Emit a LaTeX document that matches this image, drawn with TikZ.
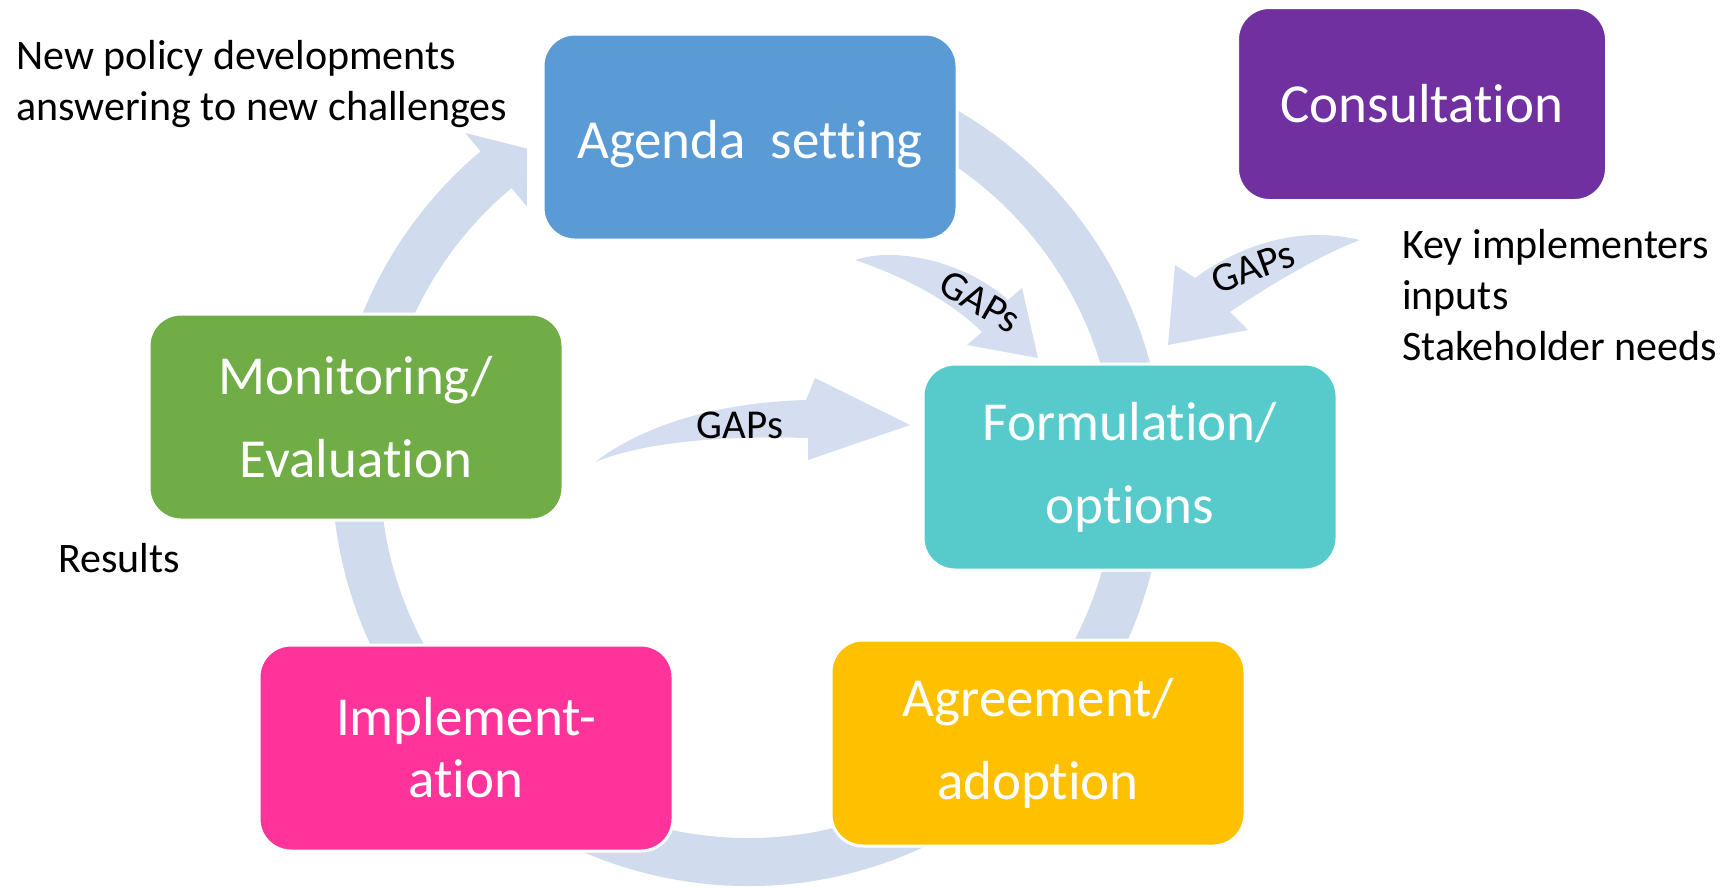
\documentclass[tikz,border=0pt]{standalone}
\usepackage{fontspec}
\setmainfont{Carlito}[Ligatures=NoCommon]
\usepackage{tikz}
\usetikzlibrary{calc}
\definecolor{ringblue}{RGB}{208,220,238}
\definecolor{gapblue}{RGB}{213,221,241}
\definecolor{agendablue}{RGB}{91,155,213}
\definecolor{consultpurple}{RGB}{112,48,160}
\definecolor{monitorgreen}{RGB}{112,173,71}
\definecolor{formteal}{RGB}{87,203,204}
\definecolor{implpink}{RGB}{255,51,153}
\definecolor{agreegold}{RGB}{255,192,0}
\tikzstyle{stage}=[draw=white, line width=3pt, rounded corners=32pt, minimum width=414pt, minimum height=206pt, inner sep=0pt, text=white, align=center, font=\fontsize{55}{83}\selectfont]
\tikzstyle{note}=[inner sep=0pt, align=left, anchor=base west, font=\fontsize{42}{51}\selectfont]
\tikzstyle{gaps}=[inner sep=0pt, font=\fontsize{41}{51}\selectfont]
\tikzstyle{gaparrow}=[fill=gapblue]

\begin{document}
\begin{tikzpicture}[x=1pt, y=-1pt]
    \useasboundingbox (0,0) rectangle (1735,887);
    \coordinate (ctr) at (748,470);
    % cycle arrow behind the stages
    \fill[ringblue] ($(ctr)+(-75:416)$) arc[start angle=-75, end angle=230, radius=416]
        -- ($(ctr)+(230:440)$) -- ($(ctr)+(235.5:390)$) -- ($(ctr)+(230:344)$)
        -- ($(ctr)+(230:368)$) arc[start angle=230, end angle=-75, radius=368] -- cycle;
    % GAPs arrows
    \fill[gaparrow] (595,462) .. controls (650,420) and (730,402) .. (806,400) -- (815,378) -- (910,425)
        -- (808,460) -- (808,438) .. controls (730,436) and (650,440) .. (595,462);
    \fill[gaparrow] (855,260) .. controls (900,245) and (970,265) .. (1008,300) -- (1022,288) -- (1038,358)
        -- (967,345) -- (982,332) .. controls (950,300) and (900,275) .. (855,260);
    \fill[gaparrow] (1360,240) .. controls (1300,225) and (1240,245) .. (1195,278) -- (1175,265) -- (1168,345)
        -- (1248,330) -- (1230,312) .. controls (1270,285) and (1320,255) .. (1360,240);
    \node[gaps] (gapsmid) at (740,425) {GAPs};
    \node[gaps, rotate=-30] (gapsleft) at (980,302) {GAPs};
    \node[gaps, rotate=20] (gapsright) at (1253,267) {GAPs};
    % stages
    \node[stage, fill=agendablue, text height=57pt, text depth=14pt] (agenda) at (750,137) {Agenda~~setting};
    \node[stage, fill=consultpurple, minimum width=369pt, minimum height=193pt] (consult) at (1422,104) {Consultation};
    \node[stage, fill=monitorgreen] (monitor) at (356,417) {Monitoring/\\Evaluation};
    \node[stage, fill=formteal] (formul) at (1130,467) {Formulation/\\options};
    \node[stage, fill=implpink, font=\fontsize{55}{62}\selectfont] (implement) at (466,748) {Implement-\\ation};
    \node[stage, fill=agreegold] (agree) at (1038,743) {Agreement/\\adoption};
    % side notes (anchored on the last line)
    \node[note] (newpolicy) at (16,120) {New policy developments\\answering to new challenges};
    \node[note] (keyinputs) at (1402,360) {Key implementers\\inputs\\Stakeholder needs};
    \node[note] (results) at (58,572) {Results};
\end{tikzpicture}
\end{document}
